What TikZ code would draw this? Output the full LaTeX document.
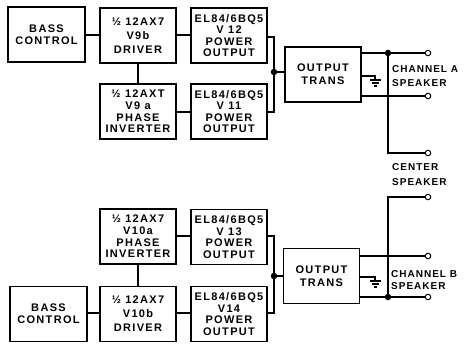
\documentclass[tikz,border=0pt]{standalone}
\usepackage{fontspec}
\setmainfont{Liberation Sans}
\newfontfamily\boxfont[LetterSpace=12]{Liberation Sans}
\newfontfamily\lblfont[LetterSpace=10]{Liberation Sans}
\begin{document}
\begin{tikzpicture}[x=1pt,y=-1pt,
  box/.style={draw, line width=1.5pt, minimum width=76pt, minimum height=55pt,
    inner sep=0pt, align=center, font=\boxfont\bfseries\fontsize{11}{11.6}\selectfont},
  wire/.style={line width=1.1pt},
  lbl/.style={anchor=west, inner sep=0pt, font=\lblfont\bfseries\fontsize{10}{11.5}\selectfont},
  jdot/.style={circle, fill, inner sep=0pt, minimum size=6.5pt},
  term/.style={circle, draw, line width=1pt, fill=white, inner sep=0pt, minimum size=5.5pt}]
\useasboundingbox (0,0) rectangle (469,352);
% ---------- channel A ----------
\node[box, minimum width=77pt] (bassA) at (46.5,34.5) {BASS\\CONTROL};
\node[box] (drvA) at (138,35.5) {½ 12AX7\\[2.5pt]V9b\\[2.5pt]DRIVER};
\node[box] (piA) at (138,111.5) {½ 12AXT\\V9 a\\PHASE\\INVERTER};
\node[box] (v12) at (229,35.5) {EL84/6BQ5\\V 12\\POWER\\OUTPUT};
\node[box] (v11) at (229,111.5) {EL84/6BQ5\\V 11\\POWER\\OUTPUT};
\node[box] (trA) at (323,74.5) {OUTPUT\\[1pt]TRANS};
\node[jdot] (jA) at (274,72) {};
\node[jdot] (oA) at (388,53) {};
\node[term] (tA1) at (428,53) {};
\node[term] (tA2) at (428,96) {};
\node[term] (tC1) at (428,153) {};
\coordinate (cA) at (388,153);
\draw[wire] (bassA.east |- 0,35) -- (drvA.west |- 0,35);
\draw[wire] (drvA.east |- 0,35) -- (v12.west |- 0,35);
\draw[wire] (drvA.south) -- (piA.north);
\draw[wire] (piA.east |- 0,112) -- (v11.west |- 0,112);
\draw[wire] (v12.east |- 0,37) -| (jA.center) |- (v11.east |- 0,112);
\draw[wire] (jA.center) -- (trA.west |- jA);
\draw[wire] (trA.east |- oA) -- (tA1.west);
\draw[wire] (trA.east |- tA2) -- (tA2.west);
\draw[wire] (oA.center) -- (cA) -- (tC1.west);
\draw[wire] (trA.east |- 0,76) -- (375,76) -- (375,80);
\draw[wire] (369.5,80) -- (380.5,80) (371.5,83) -- (378.5,83) (373.5,86) -- (376.5,86);
\node[lbl] (chA) at (392,69) {CHANNEL A};
\node[lbl] (spA) at (392,83) {SPEAKER};
\node[lbl] (ce) at (392,167) {CENTER};
\node[lbl] (spC) at (392,182) {SPEAKER};
% ---------- channel B ----------
\node[box] (piB) at (138,236.5) {½ 12AX7\\V10a\\PHASE\\INVERTER};
\node[box] (v13) at (229,237) {EL84/6BQ5\\V 13\\POWER\\OUTPUT};
\node[box, minimum width=77pt] (bassB) at (48.5,314) {BASS\\CONTROL};
\node[box] (drvB) at (138,314) {½ 12AX7\\[2.5pt]V10b\\[2.5pt]DRIVER};
\node[box] (v14) at (229,314) {EL84/6BQ5\\V14\\POWER\\OUTPUT};
\node[box] (trB) at (321.5,276) {OUTPUT\\[1pt]TRANS};
\node[jdot] (jB) at (274,276) {};
\node[jdot] (oB) at (388,297) {};
\node[term] (tB1) at (428,256) {};
\node[term] (tB2) at (428,297) {};
\node[term] (tC2) at (428,197) {};
\coordinate (cB) at (388,197);
\draw[wire] (piB.east |- 0,236) -- (v13.west |- 0,236);
\draw[wire] (piB.south) -- (drvB.north);
\draw[wire] (bassB.east |- 0,313) -- (drvB.west |- 0,313);
\draw[wire] (drvB.east |- 0,313) -- (v14.west |- 0,313);
\draw[wire] (v13.east |- 0,236) -| (jB.center) |- (v14.east |- 0,313);
\draw[wire] (jB.center) -- (trB.west |- jB);
\draw[wire] (trB.east |- tB1) -- (tB1.west);
\draw[wire] (trB.east |- oB) -- (tB2.west);
\draw[wire] (oB.center) -- (cB) -- (tC2.west);
\draw[wire] (trB.east |- 0,277) -- (375,277) -- (375,281);
\draw[wire] (369.5,281) -- (380.5,281) (371.5,284) -- (378.5,284) (373.5,287) -- (376.5,287);
\node[lbl] (chB) at (391,274) {CHANNEL B};
\node[lbl] (spB) at (391,286) {SPEAKER};
\end{tikzpicture}
\end{document}
